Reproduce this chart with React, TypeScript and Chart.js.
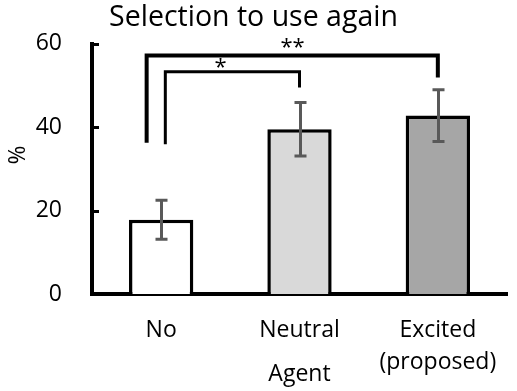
import React, { useEffect, useRef } from "react";
import { Chart, registerables } from "chart.js";

Chart.register(...registerables);

// ---- data ----
const categories = ["No", "Neutral Agent", "Excited (proposed)"];
const categoryLabelLines = [["No"], ["Neutral", "Agent"], ["Excited", "(proposed)"]];
const values = [17.8, 39.5, 42.8];
const errors = [4.7, 6.4, 6.2];
const barColors = ["#ffffff", "#d9d9d9", "#a6a6a6"];
const yTicks = [0, 20, 40, 60];
const titleText = "Selection to use again";
const yAxisTitle = "%";
// significance brackets
const bracketFrom = [0, 0];
const bracketTo = [1, 2];
const bracketLevel = [53.3, 57.2];
const bracketFromFoot = [35.9, 36.3];
const bracketToFoot = [49.5, 51.9];
const bracketLabels = ["*", "**"];

// ---- styles ----
const FONT = "'Open Sans', sans-serif";
const STYLE = {
  bracketFromOffset: [0.03, -0.105],
  bracketToOffset: [0.0, 0.0],
  bracketLabelOffset: [0.43, 0.95],
  bracketLabelGap: [8.5, 12.2],
  bracketWidth: [3, 4],
  secondLineGap: [0, 44, 32],
  firstLineDrop: 43,
};

function drawCentered(ctx: CanvasRenderingContext2D, text: string, cx: number, cy: number) {
  ctx.textAlign = "center";
  ctx.textBaseline = "alphabetic";
  const m = ctx.measureText(text);
  const asc = m.actualBoundingBoxAscent;
  const desc = m.actualBoundingBoxDescent;
  ctx.fillText(text, cx, cy + (asc - desc) / 2);
}

const overlayPlugin = {
  id: "overlay",
  afterDraw(chart: any) {
    const { ctx, chartArea } = chart;
    const xs = chart.scales.x;
    const ys = chart.scales.y;
    const catW = xs.getPixelForValue(1) - xs.getPixelForValue(0);
    const px = (i: number, off: number) => xs.getPixelForValue(i) + off * catW;
    ctx.save();

    // inside tick marks on y axis
    ctx.strokeStyle = "#000";
    ctx.lineWidth = 3;
    yTicks.forEach((v) => {
      if (v === 0) return;
      const yy = Math.round(ys.getPixelForValue(v)) + 0.5;
      ctx.beginPath();
      ctx.moveTo(chartArea.left, yy);
      ctx.lineTo(chartArea.left + 7, yy);
      ctx.stroke();
    });
    // close corner
    ctx.fillStyle = "#000";
    ctx.fillRect(chartArea.left - 2, chartArea.bottom - 2, 4, 4);

    // error bars
    ctx.strokeStyle = "#595959";
    ctx.lineWidth = 3;
    values.forEach((v, i) => {
      const cx = Math.round(xs.getPixelForValue(i)) + 0.5;
      const t = ys.getPixelForValue(v + errors[i]);
      const b = ys.getPixelForValue(v - errors[i]);
      ctx.beginPath();
      ctx.moveTo(cx, t);
      ctx.lineTo(cx, b);
      ctx.moveTo(cx - 6, t);
      ctx.lineTo(cx + 6, t);
      ctx.moveTo(cx - 6, b);
      ctx.lineTo(cx + 6, b);
      ctx.stroke();
    });

    // significance brackets
    ctx.strokeStyle = "#000";
    ctx.fillStyle = "#000";
    ctx.lineJoin = "miter";
    bracketLabels.forEach((lab, k) => {
      const xl = px(bracketFrom[k], STYLE.bracketFromOffset[k]);
      const xr = px(bracketTo[k], STYLE.bracketToOffset[k]);
      const yl = ys.getPixelForValue(bracketLevel[k]);
      ctx.lineWidth = STYLE.bracketWidth[k];
      ctx.beginPath();
      ctx.moveTo(xl, ys.getPixelForValue(bracketFromFoot[k]));
      ctx.lineTo(xl, yl);
      ctx.lineTo(xr, yl);
      ctx.lineTo(xr, ys.getPixelForValue(bracketToFoot[k]));
      ctx.stroke();
      ctx.font = `22px ${FONT}`;
      drawCentered(ctx, lab, px(bracketFrom[k], STYLE.bracketLabelOffset[k]), yl - STYLE.bracketLabelGap[k]);
    });

    // x category labels
    ctx.font = `23px ${FONT}`;
    ctx.fillStyle = "#000";
    ctx.textAlign = "center";
    ctx.textBaseline = "alphabetic";
    categoryLabelLines.forEach((lines, i) => {
      const cx = xs.getPixelForValue(i);
      const base = chartArea.bottom + STYLE.firstLineDrop;
      ctx.fillText(lines[0], cx, base);
      if (lines[1]) ctx.fillText(lines[1], cx, base + STYLE.secondLineGap[i]);
    });

    // y axis title
    ctx.font = `23px ${FONT}`;
    ctx.save();
    ctx.translate(16, 155);
    ctx.rotate(-Math.PI / 2);
    drawCentered(ctx, yAxisTitle, 0, 0);
    ctx.restore();

    ctx.restore();
  },
};

export default function App() {
  const ref = useRef<HTMLCanvasElement | null>(null);
  useEffect(() => {
    if (!ref.current) return;
    const chart = new Chart(ref.current, {
      type: "bar",
      data: {
        labels: categories,
        datasets: [
          {
            data: values,
            backgroundColor: barColors,
            borderColor: "#000",
            borderWidth: 3.5,
            barPercentage: 0.465,
            categoryPercentage: 1,
          },
        ],
      },
      options: {
        responsive: false,
        animation: false,
        devicePixelRatio: 1,
        layout: { padding: { left: 0, right: 10, top: 0, bottom: 0 } },
        plugins: {
          legend: { display: false },
          tooltip: { enabled: false },
          title: {
            display: true,
            text: titleText,
            color: "#000",
            font: { family: FONT, size: 28.5, weight: "normal" },
            padding: { top: 0, bottom: 8.8 },
          },
        },
        scales: {
          x: {
            grid: { display: false, drawTicks: false },
            border: { display: true, color: "#000", width: 4 },
            ticks: { display: false },
            afterFit: (s: any) => {
              s.height = 97;
            },
          },
          y: {
            min: 0,
            max: 60,
            grid: { display: false, drawTicks: false },
            border: { display: true, color: "#000", width: 4 },
            ticks: {
              stepSize: 20,
              color: "#000",
              padding: 30,
              font: { family: FONT, size: 23 },
            },
            afterFit: (s: any) => {
              s.width = 92;
            },
          },
        },
      },
      plugins: [overlayPlugin],
    });
    return () => chart.destroy();
  }, []);
  return (
    <div style={{ position: "fixed", left: 0, top: 0, width: 517, height: 391, background: "#fff" }}>
      <canvas ref={ref} width={517} height={391} style={{ display: "block" }} />
    </div>
  );
}
